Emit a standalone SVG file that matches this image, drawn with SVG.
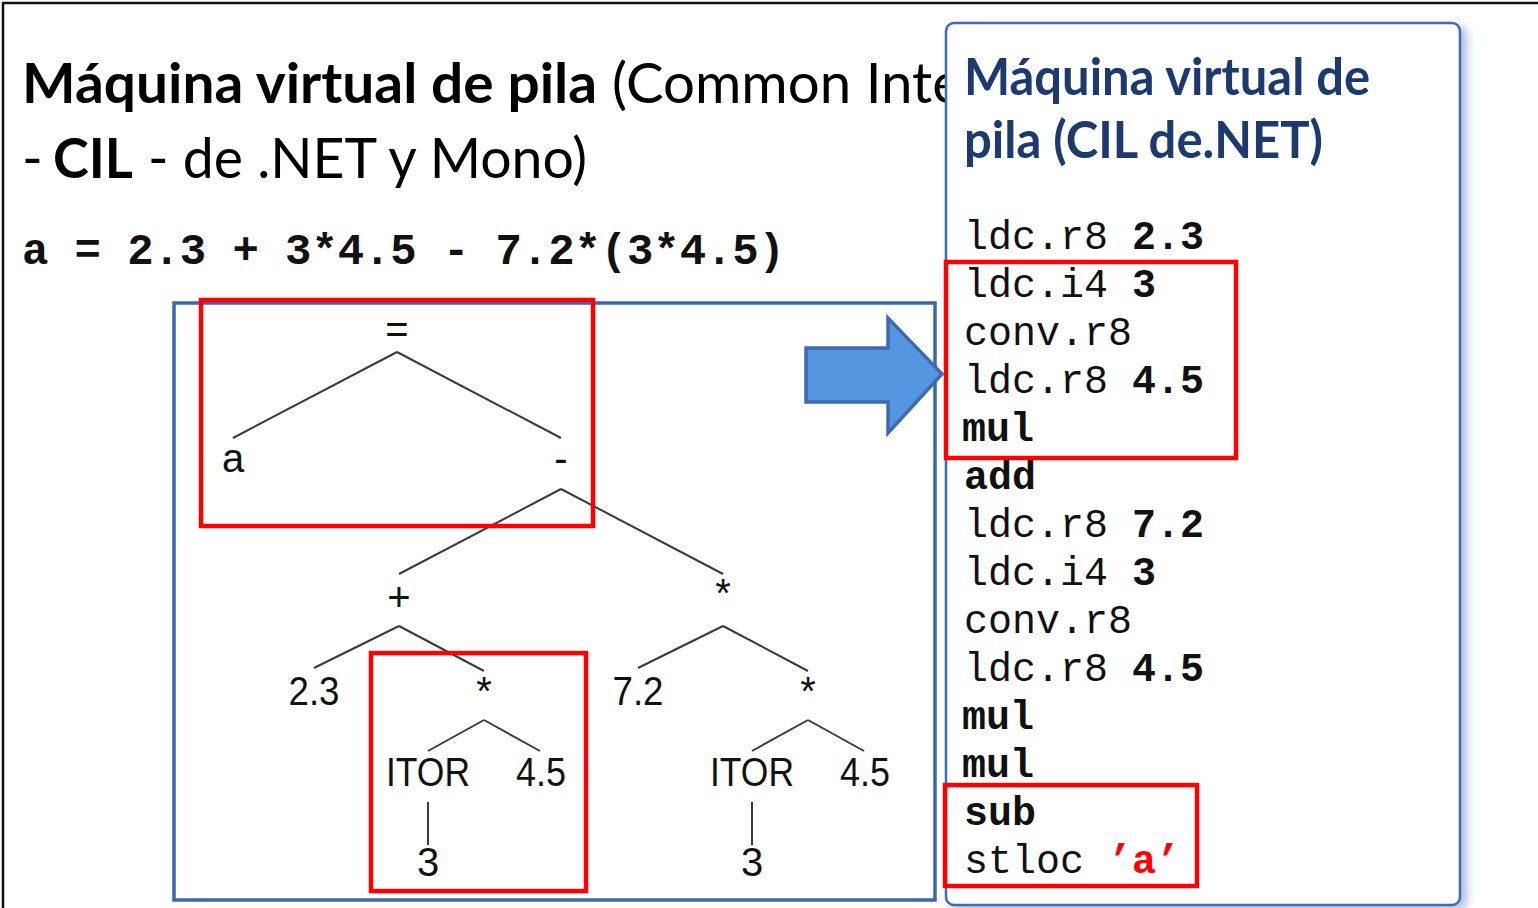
<svg xmlns="http://www.w3.org/2000/svg" width="1538" height="908" viewBox="0 0 1538 908">
<defs>
<style>
.ttl{font-family:Lato,"Open Sans","Noto Sans",sans-serif;}
.code{font-family:"Liberation Mono","Courier New",monospace;font-size:40px;fill:#111;}
.b{font-weight:bold;}
.lbl{font-family:"Liberation Sans",Arial,sans-serif;font-size:40px;fill:#111;text-anchor:middle;}
.edge{stroke:#3a3a3a;stroke-width:2;fill:none;}
.red{fill:none;stroke:#ff0000;stroke-width:4.5;}
</style>
<filter id="sh" x="-5%" y="-5%" width="115%" height="115%">
<feGaussianBlur in="SourceAlpha" stdDeviation="4"/>
<feOffset dx="6" dy="4" result="o"/>
<feFlood flood-color="#8aa6d8" flood-opacity="0.7"/>
<feComposite in2="o" operator="in"/>
<feMerge><feMergeNode/><feMergeNode in="SourceGraphic"/></feMerge>
</filter>
</defs>
<rect width="1538" height="908" fill="#ffffff"/>
<path d="M3,908 V3 H1538" fill="none" stroke="#111" stroke-width="2.5"/>

<g id="left-title">
<text class="ttl" x="22" y="103" font-size="56"><tspan font-weight="bold" textLength="575" lengthAdjust="spacingAndGlyphs">Máquina virtual de pila</tspan><tspan x="612" textLength="350" lengthAdjust="spacingAndGlyphs">(Common Inte</tspan></text>
<text class="ttl" x="22" y="178" font-size="56"><tspan>-</tspan><tspan x="53" font-weight="bold" textLength="80" lengthAdjust="spacingAndGlyphs">CIL</tspan><tspan x="148" textLength="439" lengthAdjust="spacingAndGlyphs">- de .NET y Mono)</tspan></text>
<text class="code b" x="22" y="264" font-size="44" textLength="763" lengthAdjust="spacing" style="font-size:44px">a = 2.3 + 3*4.5 - 7.2*(3*4.5)</text>
</g>

<g id="tree-frame">
<rect x="174" y="303" width="761" height="597" fill="none" stroke="#3d67ad" stroke-width="3.5"/>
</g>

<g id="connectors">
<line class="edge" x1="397" y1="352" x2="233" y2="438"/>
<line class="edge" x1="397" y1="352" x2="561" y2="438"/>
<line class="edge" x1="561" y1="489" x2="399" y2="574"/>
<line class="edge" x1="561" y1="489" x2="723" y2="574"/>
<line class="edge" x1="399" y1="626" x2="314" y2="668"/>
<line class="edge" x1="399" y1="626" x2="484" y2="671"/>
<line class="edge" x1="723" y1="626" x2="638" y2="668"/>
<line class="edge" x1="723" y1="626" x2="808" y2="671"/>
<line class="edge" x1="484" y1="720" x2="428" y2="751"/>
<line class="edge" x1="484" y1="720" x2="540" y2="751"/>
<line class="edge" x1="808" y1="720" x2="752" y2="751"/>
<line class="edge" x1="808" y1="720" x2="864" y2="751"/>
<line class="edge" x1="428" y1="802" x2="428" y2="845"/>
<line class="edge" x1="752" y1="802" x2="752" y2="845"/>
</g>

<g id="node-assign"><text class="lbl" x="397" y="343">=</text></g>
<g id="node-a"><text class="lbl" x="233" y="472">a</text></g>
<g id="node-minus"><text class="lbl" x="561" y="472">-</text></g>
<g id="node-plus"><text class="lbl" x="399" y="611">+</text></g>
<g id="node-mul1"><text class="lbl" x="723" y="607">*</text></g>
<g id="node-23"><text class="lbl" x="314" y="705" textLength="51" lengthAdjust="spacingAndGlyphs">2.3</text></g>
<g id="node-mul2"><text class="lbl" x="484" y="705">*</text></g>
<g id="node-72"><text class="lbl" x="638" y="705" textLength="51" lengthAdjust="spacingAndGlyphs">7.2</text></g>
<g id="node-mul3"><text class="lbl" x="808" y="705">*</text></g>
<g id="node-itor1"><text class="lbl" x="428" y="786" textLength="84" lengthAdjust="spacingAndGlyphs">ITOR</text></g>
<g id="node-45a"><text class="lbl" x="541" y="786" textLength="50" lengthAdjust="spacingAndGlyphs">4.5</text></g>
<g id="node-itor2"><text class="lbl" x="752" y="786" textLength="84" lengthAdjust="spacingAndGlyphs">ITOR</text></g>
<g id="node-45b"><text class="lbl" x="865" y="786" textLength="50" lengthAdjust="spacingAndGlyphs">4.5</text></g>
<g id="node-3a"><text class="lbl" x="428" y="876">3</text></g>
<g id="node-3b"><text class="lbl" x="752" y="876">3</text></g>

<g id="red-box-tree1"><rect class="red" x="201" y="300" width="392" height="226"/></g>
<g id="red-box-tree2"><rect class="red" x="371" y="653" width="215" height="238"/></g>

<g id="arrow">
<polygon points="806,348 888,348 888,318 942,374 888,433 888,402 806,402" fill="#5596e0" stroke="#3e6bb0" stroke-width="3.5" stroke-linejoin="miter"/>
</g>

<g id="cil-panel">
<rect x="946" y="23" width="514" height="882" rx="8" fill="#ffffff" stroke="#3f6cb5" stroke-width="2.5" filter="url(#sh)"/>
<text class="ttl" x="964" y="95" font-size="51" font-weight="bold" fill="#1c3a6e" textLength="406" lengthAdjust="spacingAndGlyphs">Máquina virtual de</text>
<text class="ttl" x="964" y="158" font-size="51" font-weight="bold" fill="#1c3a6e" textLength="359" lengthAdjust="spacingAndGlyphs">pila (CIL de.NET)</text>
<text class="code" x="964" y="249">ldc.r8 <tspan class="b">2.3</tspan></text>
<text class="code" x="964" y="297">ldc.i4 <tspan class="b">3</tspan></text>
<text class="code" x="964" y="345">conv.r8</text>
<text class="code" x="964" y="393">ldc.r8 <tspan class="b">4.5</tspan></text>
<text class="code b" x="962" y="441">mul</text>
<text class="code b" x="964" y="489">add</text>
<text class="code" x="964" y="537">ldc.r8 <tspan class="b">7.2</tspan></text>
<text class="code" x="964" y="585">ldc.i4 <tspan class="b">3</tspan></text>
<text class="code" x="964" y="633">conv.r8</text>
<text class="code" x="964" y="681">ldc.r8 <tspan class="b">4.5</tspan></text>
<text class="code b" x="962" y="729">mul</text>
<text class="code b" x="962" y="777">mul</text>
<text class="code b" x="964" y="825">sub</text>
<text class="code" x="964" y="873">stloc <tspan class="b" fill="#ff0000">’a’</tspan></text>
</g>

<g id="red-box-code1"><rect class="red" x="946" y="262" width="290" height="196"/></g>
<g id="red-box-code2"><rect class="red" x="945" y="785" width="252" height="101"/></g>
</svg>
